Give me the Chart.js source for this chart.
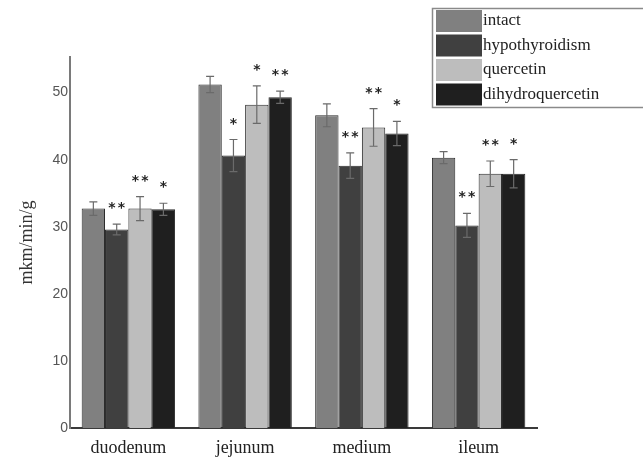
<!DOCTYPE html>
<html>
<head>
<meta charset="utf-8">
<script src="https://cdn.jsdelivr.net/npm/chart.js@4.4.0/dist/chart.umd.min.js"></script>
<style>
html,body{margin:0;padding:0;background:#fff;}
#wrap{width:643px;height:459px;}
</style>
</head>
<body>
<div id="wrap"><canvas id="c" width="643" height="459"></canvas></div>
<script>
const categories = ['duodenum', 'jejunum', 'medium', 'ileum'];
const seriesNames = ['intact', 'hypothyroidism', 'quercetin', 'dihydroquercetin'];
const intact = [32.7, 51.2, 46.6, 40.3];
const hypothyroidism = [29.6, 40.6, 39.1, 30.2];
const quercetin = [32.7, 48.2, 44.8, 37.9];
const dihydroquercetin = [32.6, 49.3, 43.9, 37.9];
const intactErr = [1.0, 1.2, 1.7, 0.9];
const hypothyroidismErr = [0.8, 2.4, 1.9, 1.8];
const quercetinErr = [1.8, 2.8, 2.8, 1.9];
const dihydroquercetinErr = [0.9, 0.9, 1.8, 2.1];
const intactStars = ['', '', '', ''];
const hypothyroidismStars = ['**', '*', '**', '**'];
const quercetinStars = ['**', '*', '**', '**'];
const dihydroquercetinStars = ['*', '**', '*', '*'];
const yTicks = [0, 10, 20, 30, 40, 50];
const colors = ['#808080', '#404040', '#bdbdbd', '#1f1f1f'];

const values = [intact, hypothyroidism, quercetin, dihydroquercetin];
const errs = [intactErr, hypothyroidismErr, quercetinErr, dihydroquercetinErr];
const stars = [intactStars, hypothyroidismStars, quercetinStars, dihydroquercetinStars];

const errorPlugin = {
  id: 'errbars',
  afterDatasetsDraw(chart) {
    const ctx = chart.ctx;
    const y = chart.scales.y;
    ctx.save();
    chart.data.datasets.forEach((ds, di) => {
      const meta = chart.getDatasetMeta(di);
      meta.data.forEach((bar, i) => {
        const v = ds.data[i], e = errs[di][i];
        const x = bar.x;
        const yt = y.getPixelForValue(v + e), yb = y.getPixelForValue(v - e);
        ctx.strokeStyle = '#6a6a6a';
        ctx.lineWidth = 1.2;
        ctx.beginPath();
        ctx.moveTo(x, yt); ctx.lineTo(x, yb);
        ctx.moveTo(x - 4, yt); ctx.lineTo(x + 4, yt);
        ctx.moveTo(x - 4, yb); ctx.lineTo(x + 4, yb);
        ctx.stroke();
        const s = stars[di][i];
        if (s) {
          ctx.fillStyle = '#222';
          ctx.font = 'bold 14px "DejaVu Sans", sans-serif';
          ctx.textAlign = 'center';
          ctx.textBaseline = 'alphabetic';
          const n = s.length;
          for (let k = 0; k < n; k++) {
            const off = (k - (n - 1) / 2) * 9.5;
            ctx.fillText('*', x + off, yt - 12);
          }
        }
      });
    });
    ctx.restore();
  }
};

const legendPlugin = {
  id: 'boxlegend',
  afterDraw(chart) {
    const ctx = chart.ctx;
    ctx.save();
    ctx.strokeStyle = '#8a8a8a';
    ctx.lineWidth = 1.5;
    ctx.strokeRect(432.5, 8.5, 230, 99);
    chart.data.datasets.forEach((ds, i) => {
      const top = 10 + i * 24.5;
      ctx.fillStyle = ds.backgroundColor;
      ctx.fillRect(436, top, 46, 22);
      ctx.fillStyle = '#222';
      ctx.font = '17px "Liberation Serif", "DejaVu Serif", serif';
      ctx.textAlign = 'left';
      ctx.textBaseline = 'middle';
      ctx.fillText(ds.label, 483, top + 11);
    });
    ctx.restore();
  }
};

new Chart(document.getElementById('c'), {
  type: 'bar',
  data: {
    labels: categories,
    datasets: seriesNames.map((n, i) => ({
      label: n,
      data: values[i],
      backgroundColor: colors[i],
      borderColor: '#2a2a2a',
      borderWidth: 1,
      categoryPercentage: 0.8,
      barPercentage: 1.0
    }))
  },
  options: {
    responsive: false,
    animation: false,
    layout: { padding: { left: 0, right: 106, top: 57, bottom: 0 } },
    plugins: { legend: { display: false }, tooltip: { enabled: false } },
    scales: {
      x: {
        grid: { display: false },
        border: { display: true, color: '#3a3a3a', width: 2 },
        ticks: { color: '#222', font: { family: '"Liberation Serif", serif', size: 18 }, padding: 1 },
        afterFit(s) { s.height = 31; }
      },
      y: {
        min: 0, max: 55.3,
        grid: { display: false, drawTicks: false },
        border: { display: true, color: '#7a7a7a', width: 2 },
        afterBuildTicks(s) { s.ticks = yTicks.map(v => ({ value: v })); },
        ticks: { color: '#555', font: { family: '"Liberation Sans", sans-serif', size: 14 }, padding: 2 },
        title: { display: true, text: 'mkm/min/g', color: '#333', font: { family: '"Liberation Serif", serif', size: 18 }, padding: { top: 16, bottom: 0 } },
        afterFit(s) { s.width = 70; }
      }
    }
  },
  plugins: [errorPlugin, legendPlugin]
});
</script>
</body>
</html>
